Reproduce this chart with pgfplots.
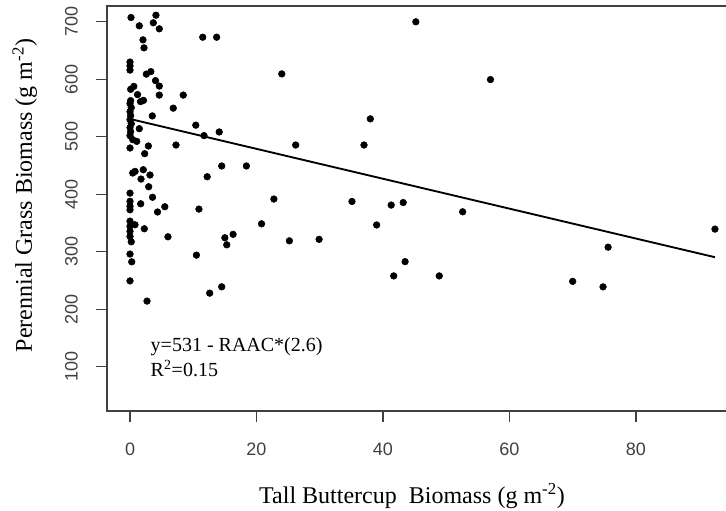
\documentclass[border=0pt]{standalone}
\usepackage{pgfplots}
\pgfplotsset{compat=1.18}
\usepackage{pgfplotstable}
\usepackage{fontspec}
\setmainfont{Liberation Serif}
\newfontfamily\arialfont{Liberation Sans}
\pgfplotstableread{
x y
0.16 707.5
1.47 693
4.1 711.5
3.68 698.3
4.63 687.8
2.05 668.6
2.21 654.7
11.5 673.2
13.7 673.2
0 630
0 623.4
0 616
2.58 609
3.29 613.4
4.03 597.7
4.63 588.2
0.6 587.6
0.1 582.6
1.19 573.4
2.13 563.3
1.66 561.2
4.63 572.5
8.42 572.5
0.1 562.9
6.84 549.8
3.52 536.3
10.4 520.2
1.47 514.1
0 557.7
0.2 550.7
0 543.7
0.1 536.8
0 529.8
0.2 522.8
0 515.9
0.1 508.9
0 501.9
0.43 495
1.06 492
0 480.5
2.9 484
2.32 470.6
7.27 485.7
14.1 508.4
11.7 502
26.2 485.7
14.5 449.2
18.4 449.2
12.2 430.5
10.9 374.2
22.75 391.7
20.8 348.6
15.0 324.3
16.3 330.3
15.3 312.1
25.2 319
29.9 321.6
12.6 228
14.5 239
0.43 437
0.8 439.8
2.1 442.7
3.16 433.5
1.74 426.5
2.95 413.1
0 402
3.56 394.8
0 387.8
0 379.1
0 373
1.69 383.5
5.5 378.3
4.35 369.2
0 353.3
0.79 346.9
0 344.3
0 335.6
2.26 340
0 326.5
6.0 326
0.2 317.3
0 296
0.27 282.5
10.5 294.1
0 249.3
2.69 214.2
24.0 609.4
45.2 700
57.0 599.5
38.0 531.2
37.0 485.7
35.1 387.5
41.3 381.2
43.2 385.6
52.6 369.5
39.0 346.6
43.5 282.8
41.7 258
48.9 258
75.6 308
70.0 248.5
74.8 238.9
92.5 339.4
}\pts
\pgfplotstableread{
x y
0 531
92.5 290.5
}\fit
\begin{document}
\begin{tikzpicture}
\begin{axis}[
  at={(80.25pt,75pt)}, anchor=south west,
  scale only axis, width=474pt, height=303.75pt,
  xmin=-3.64, xmax=96.3, ymin=23, ymax=727.5,
  axis line style={line width=1pt, black!75},
  xtick={0,20,40,60,80}, ytick={100,200,300,400,500,600,700},
  tick pos=left,
  tick align=outside, major tick length=8pt,
  every tick/.style={line width=1pt, black!75},
  /pgf/number format/assume math mode=true,
  tick label style={font=\arialfont\fontsize{13.5}{15}\selectfont, text=black!75},
  xticklabel style={anchor=base, yshift=-25.75pt},
  yticklabel style={xshift=-14pt, rotate=90, anchor=base},
  xlabel={Tall Buttercup\ \ Biomass (g m\textsuperscript{-2})},
  ylabel={Perennial Grass Biomass (g m\textsuperscript{-2})},
  label style={font=\fontsize{18}{20}\selectfont},
  xlabel style={at={(axis description cs:0.4826,-0.2272)}, anchor=base},
  ylabel style={at={(axis description cs:-0.1187,0.532)}, rotate=0, anchor=base},
  clip=false,
]
\addplot[only marks, mark=*, mark size=2.5pt, black] table[x=x,y=y] {\pts};
\addplot[black, line width=1.4pt] table[x=x,y=y] {\fit};
\node[anchor=base west, font=\fontsize{15}{17}\selectfont] at (axis cs:2.53,126.1) {y=531 - RAAC*(2.6)};
\node[anchor=base west, font=\fontsize{15}{17}\selectfont] at (axis cs:2.53,82.6) {R\textsuperscript{2}=0.15};
\end{axis}
\pgfresetboundingbox
\path[use as bounding box] (0,0) rectangle (544.5pt,383.25pt);
\end{tikzpicture}
\end{document}
